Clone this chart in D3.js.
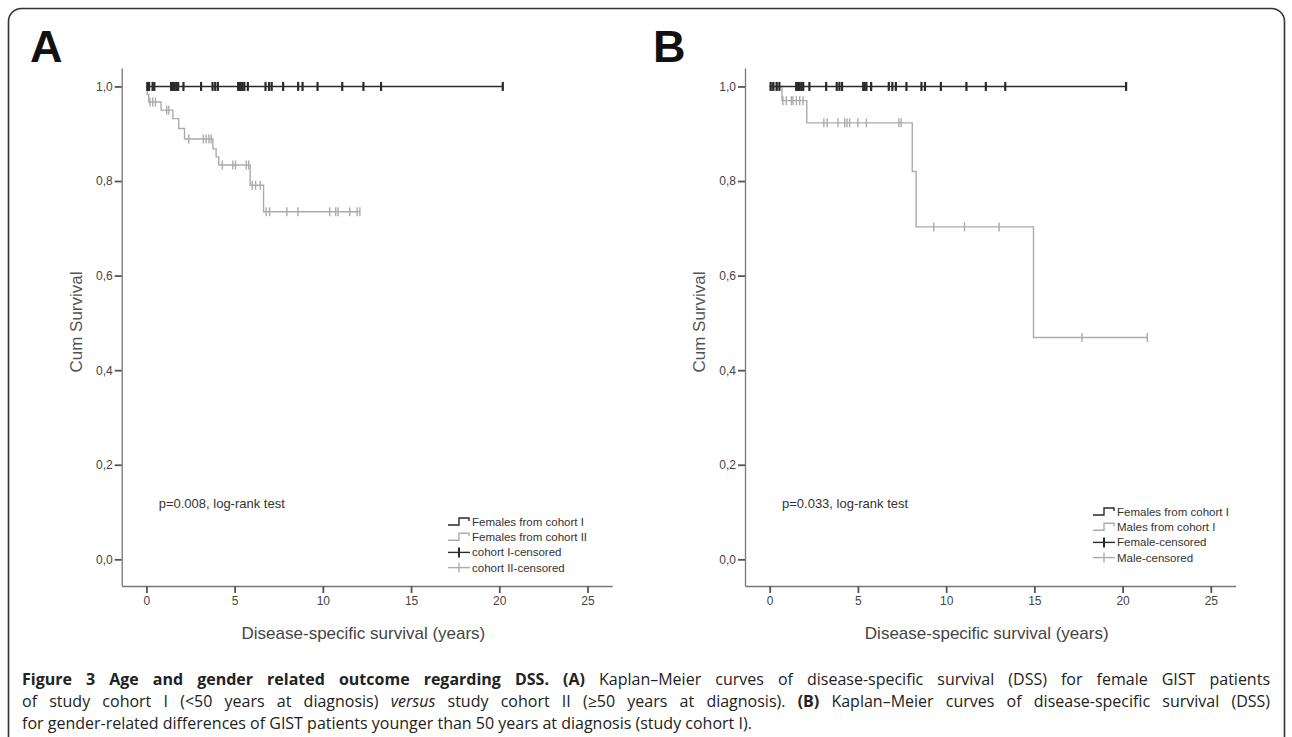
<!DOCTYPE html>
<html>
<head>
<meta charset="utf-8">
<script src="https://cdn.jsdelivr.net/npm/d3@7"></script>
<style>
  body { margin: 0; background: #fff; }
  text { font-family: "Liberation Sans", Arial, sans-serif; }
  .caption text { font-family: "Open Sans", "Liberation Sans", sans-serif; }
</style>
</head>
<body>
<div id="fig"></div>
<script>
// ---- data (years / cumulative survival) ----
var xTicks = [0, 5, 10, 15, 20, 25];
var yTicks = [0, 0.2, 0.4, 0.6, 0.8, 1.0];

// panel A: females, cohort I (<50) vs cohort II (>=50)
var cohort1Events = [];          // no deaths
var cohort1Surv = [];
var cohort1End = 20.2;
var cohort1Censored = [0.05, 0.15, 0.35, 0.45, 1.4, 1.5, 1.6, 1.7, 1.8, 2.1, 3.1, 3.75, 3.9, 4.05,
  5.2, 5.3, 5.35, 5.45, 5.55, 5.75, 6.75, 6.95, 7.1, 7.75, 8.6, 8.85, 9.7, 11.1, 12.3, 13.3, 20.2];

var cohort2Events = [0.05, 0.13, 0.83, 1.5, 1.83, 2.16, 3.77, 3.95, 4.1, 5.88, 6.64];
var cohort2Surv = [0.983, 0.967, 0.950, 0.932, 0.911, 0.889, 0.868, 0.851, 0.834, 0.791, 0.735];
var cohort2End = 12.1;
var cohort2Censored = [0.2, 0.36, 0.51, 1.15, 1.27, 2.4, 3.23, 3.39, 3.54, 3.67, 4.3, 4.9, 5.05,
  5.66, 5.8, 6.0, 6.19, 6.45, 6.79, 6.98, 7.96, 8.59, 10.39, 10.73, 10.86, 11.52, 11.94, 12.1];

// panel B: cohort I, females vs males
var femaleEvents = [];
var femaleSurv = [];
var femaleEnd = 20.2;
var femaleCensored = [0.05, 0.2, 0.4, 0.55, 1.5, 1.6, 1.7, 1.8, 1.9, 2.25, 3.2, 3.8, 3.95, 4.1,
  5.3, 5.38, 5.48, 5.75, 6.75, 6.95, 7.15, 7.75, 8.6, 8.8, 9.7, 11.15, 12.25, 13.35, 20.2];

var maleEvents = [0.7, 2.1, 8.08, 8.3, 14.95];
var maleSurv = [0.97, 0.923, 0.82, 0.703, 0.469];
var maleEnd = 21.4;
var maleCensored = [0.1, 0.3, 0.75, 0.94, 1.23, 1.32, 1.51, 1.7, 1.89, 3.07, 3.26, 3.87, 4.25, 4.38,
  4.53, 5.0, 5.48, 7.32, 7.45, 9.3, 11.04, 13.0, 17.7, 21.4];

var legendA = ["Females from cohort I", "Females from cohort II", "cohort I-censored", "cohort II-censored"];
var legendB = ["Females from cohort I", "Males from cohort I", "Female-censored", "Male-censored"];

var captionLines = [
  [["b", "Figure 3 Age and gender related outcome regarding DSS. "], ["b", "(A)"], ["n", " Kaplan\u2013Meier curves of disease-specific survival (DSS) for female GIST patients"]],
  [["n", "of study cohort I (<50 years at diagnosis) "], ["i", "versus"], ["n", " study cohort II (\u226550 years at diagnosis). "], ["b", "(B)"], ["n", " Kaplan\u2013Meier curves of disease-specific survival (DSS)"]],
  [["n", "for gender-related differences of GIST patients younger than 50 years at diagnosis (study cohort I)."]]
];

var W = 1292, H = 737;
var dark = "#2a2a2a", light = "#ababab";

var svg = d3.select("#fig").append("svg")
    .attr("width", W)
    .attr("height", H);

// rounded frame
svg.append("rect")
    .attr("x", 8.5).attr("y", 8.5)
    .attr("width", 1276).attr("height", 780)
    .attr("rx", 13)
    .attr("fill", "none")
    .attr("stroke", "#333")
    .attr("stroke-width", 1.6);

var comma = d => d3.format(".1f")(d).replace(".", ",");

function survAt(t, events, surv) {
  var s = 1;
  events.forEach((e, i) => { if (e <= t) s = surv[i]; });
  return s;
}

function drawPanel(opts) {
  var g = svg.append("g");
  var x = d3.scaleLinear().domain([-1.4, 26.4]).range([opts.x0, opts.x0 + 490.5]);
  var y = d3.scaleLinear().domain([-0.0564, 1.039]).range([586, 68]);

  // panel letter
  g.append("text")
      .attr("x", opts.letterX).attr("y", 62)
      .style("font", "bold 45px 'Liberation Sans', Arial, sans-serif")
      .attr("fill", "#111")
      .text(opts.letter);

  var yAxis = g.append("g")
      .attr("transform", "translate(" + opts.x0 + ",0)")
      .call(d3.axisLeft(y).tickValues(yTicks).tickFormat(comma).tickSize(7).tickSizeOuter(0).tickPadding(2));
  var xAxis = g.append("g")
      .attr("transform", "translate(0,586)")
      .call(d3.axisBottom(x).tickValues(xTicks).tickSize(7).tickSizeOuter(0).tickPadding(3));
  [yAxis, xAxis].forEach(a => {
    a.select(".domain").attr("stroke", "#777").attr("stroke-width", 1.3);
    a.selectAll(".tick line").attr("stroke", "#555").attr("stroke-width", 1.8);
    a.selectAll(".tick text").attr("fill", "#444")
      .style("font-size", "12px").style("font-family", "'Liberation Sans', Arial, sans-serif");
  });

  g.append("text")
      .attr("transform", "translate(" + (opts.x0 - 40) + ",322) rotate(-90)")
      .attr("text-anchor", "middle")
      .attr("fill", "#555")
      .style("font-size", "17px")
      .text("Cum Survival");

  g.append("text")
      .attr("x", x(12.3)).attr("y", 639)
      .attr("text-anchor", "middle")
      .attr("fill", "#444")
      .style("font-size", "17px")
      .text("Disease-specific survival (years)");

  g.append("text")
      .attr("x", opts.x0 + 37).attr("y", 508)
      .attr("fill", "#333")
      .style("font-size", "13px")
      .text(opts.ptext);

  // curves, light first then dark on top
  var line = d3.line().x(d => x(d[0])).y(d => y(d[1]));
  opts.series.slice().reverse().forEach(s => {
    var pts = [[0, 1]], prev = 1;
    s.events.forEach((t, i) => { pts.push([t, prev]); pts.push([t, s.surv[i]]); prev = s.surv[i]; });
    pts.push([s.end, prev]);
    g.append("path")
        .attr("d", line(pts))
        .attr("fill", "none")
        .attr("stroke", s.color)
        .attr("stroke-width", 1.4);
    g.append("g").selectAll("line")
      .data(s.censored)
      .join("line")
        .attr("x1", d => x(d)).attr("x2", d => x(d))
        .attr("y1", d => y(survAt(d, s.events, s.surv)) - 4.5)
        .attr("y2", d => y(survAt(d, s.events, s.surv)) + 4.5)
        .attr("stroke", s.color)
        .attr("stroke-width", s.markWidth);
  });

  // legend
  var lg = g.append("g");
  opts.legend.forEach((label, i) => {
    var cy = opts.legendY + i * 15.2;
    var col = i % 2 === 0 ? dark : light;
    var lx = opts.legendX;
    if (i < 2) {
      lg.append("path")
          .attr("d", "M" + lx + "," + (cy + 3) + "H" + (lx + 11) + "V" + (cy - 4) + "H" + (lx + 21) + "V" + (cy - 1))
          .attr("fill", "none").attr("stroke", col).attr("stroke-width", 1.4);
    } else {
      lg.append("line").attr("x1", lx).attr("x2", lx + 22).attr("y1", cy).attr("y2", cy)
          .attr("stroke", col).attr("stroke-width", 1.4);
      lg.append("line").attr("x1", lx + 11).attr("x2", lx + 11).attr("y1", cy - 5).attr("y2", cy + 5)
          .attr("stroke", col).attr("stroke-width", i === 2 ? 2 : 1.3);
    }
    lg.append("text")
        .attr("x", lx + 24).attr("y", cy + 4)
        .attr("fill", "#333")
        .style("font-size", "11.5px")
        .text(label);
  });
}

drawPanel({
  letter: "A", letterX: 30, x0: 121.7,
  ptext: "p=0.008, log-rank test",
  legend: legendA, legendX: 448, legendY: 522,
  series: [
    {events: cohort1Events, surv: cohort1Surv, end: cohort1End, censored: cohort1Censored, color: dark, markWidth: 2.2},
    {events: cohort2Events, surv: cohort2Surv, end: cohort2End, censored: cohort2Censored, color: light, markWidth: 1.4}
  ]
});

drawPanel({
  letter: "B", letterX: 653, x0: 745,
  ptext: "p=0.033, log-rank test",
  legend: legendB, legendX: 1093, legendY: 512,
  series: [
    {events: femaleEvents, surv: femaleSurv, end: femaleEnd, censored: femaleCensored, color: dark, markWidth: 2.2},
    {events: maleEvents, surv: maleSurv, end: maleEnd, censored: maleCensored, color: light, markWidth: 1.4}
  ]
});

// caption
var cap = svg.append("g").attr("class", "caption");
captionLines.forEach((parts, i) => {
  var t = cap.append("text")
      .attr("x", 22).attr("y", 685 + i * 22)
      .attr("fill", "#222")
      .style("font-size", "16px");
  parts.forEach(p => {
    t.append("tspan")
        .style("font-weight", p[0] === "b" ? "bold" : "normal")
        .style("font-style", p[0] === "i" ? "italic" : "normal")
        .text(p[1]);
  });
  if (i < 2) {
    // justify the first two lines
    var target = 1270 - 22;
    var len = t.node().getComputedTextLength();
    var spaces = parts.map(p => p[1]).join("").split(" ").length - 1;
    t.attr("word-spacing", Math.max(0, (target - len) / spaces) + "px");
  }
});
</script>
</body>
</html>
